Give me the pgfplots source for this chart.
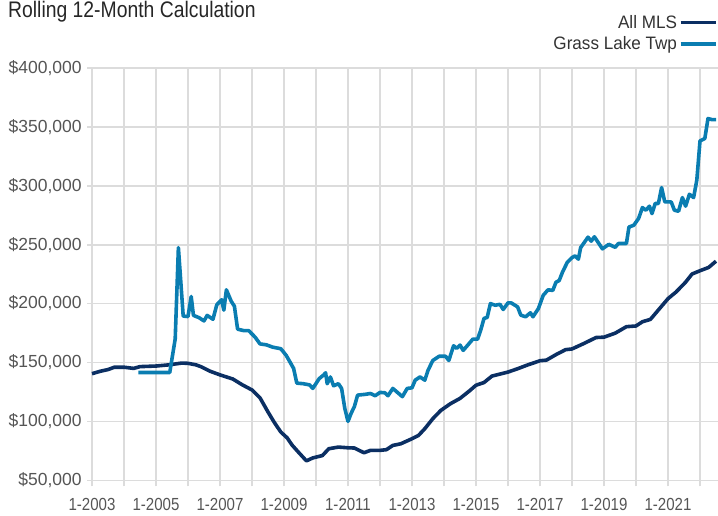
\documentclass[border=0pt]{standalone}
\usepackage{fontspec}
\setmainfont{Liberation Sans}[FakeStretch=0.86]
\newfontfamily\legfont{Liberation Sans}[FakeStretch=0.95]
\newfontfamily\yfont{Liberation Sans}
\usepackage{pgfplots}
\pgfplotsset{compat=1.18}
\definecolor{navy}{HTML}{0B2F63}
\definecolor{teal}{HTML}{0A7DB1}
\definecolor{gridgray}{HTML}{DCDCDC}
\definecolor{labgray}{HTML}{555555}
\begin{document}
\begin{tikzpicture}[x=1pt,y=1pt]
\useasboundingbox (0,0) rectangle (718,515);
\node[anchor=west, inner sep=0pt, font=\fontsize{22.5}{26}\selectfont, text=black!85] at (8,503) {Rolling 12-Month Calculation};
\begin{axis}[
  at={(87.2pt,34.7pt)}, anchor=south west,
  scale only axis, width=630.4pt, height=412.3pt,
  xmin=2002.85, xmax=2022.55, ymin=50, ymax=400,
  axis line style={draw=none},
  xtick={2003,2005,2007,2009,2011,2013,2015,2017,2019,2021},
  xticklabels={1-2003,1-2005,1-2007,1-2009,1-2011,1-2013,1-2015,1-2017,1-2019,1-2021},
  minor xtick={2004,2006,2008,2010,2012,2014,2016,2018,2020,2022},
  ytick={50,100,150,200,250,300,350,400},
  yticklabels={{\$50,000},{\$100,000},{\$150,000},{\$200,000},{\$250,000},{\$300,000},{\$350,000},{\$400,000}},
  xtick pos=bottom, ytick pos=left,
  tick align=outside, major tick length=6pt, minor tick length=6pt,
  xtick style={draw=gridgray, line width=1.6pt},
  minor x tick style={draw=gridgray, line width=1.6pt},
  ytick style={draw=none},
  grid=both,
  major grid style={draw=gridgray, line width=1.6pt},
  minor grid style={draw=gridgray, line width=1.6pt},
  /pgf/number format/assume math mode=true,
  yticklabel style={font=\yfont\fontsize{17.5}{20}\selectfont, text=labgray, xshift=4pt},
  xticklabel style={font=\fontsize{17.5}{20}\selectfont, text=labgray, yshift=-8pt},
  legend style={at={(1,1.035)}, anchor=south east, draw=none, fill=none,
    font=\legfont\fontsize{18}{21}\selectfont, text=black!80, inner sep=0pt,
    row sep=3pt, legend cell align=right},
  legend plot pos=right,
  legend image code/.code={\draw[#1, line width=3.4pt] (0pt,0pt) -- (35pt,0pt);},
  clip=false,
]
\addplot[navy, line width=3.6pt, line join=round] coordinates {
(2003.0,140.5)(2003.25,142.5)(2003.5,144)(2003.7,146)(2004.0,146)(2004.3,145)(2004.5,146.5)
(2005.0,147)(2005.4,148)(2005.8,149.5)(2006.0,149.3)(2006.25,148)(2006.4,146.5)(2006.7,142.5)
(2007.0,139.5)(2007.4,136)(2007.7,131)(2008.0,126.7)(2008.25,120)(2008.5,108)(2008.7,99)
(2008.9,91)(2009.1,86)(2009.25,80)(2009.4,75.4)(2009.7,66.5)(2009.9,69)(2010.2,71)
(2010.4,76.8)(2010.7,78.2)(2011.0,77.6)(2011.2,77.4)(2011.5,73.4)(2011.7,75.4)(2012.0,75.4)
(2012.2,76)(2012.4,79.6)(2012.65,81)(2013.0,85.3)(2013.2,88)(2013.4,93.8)(2013.65,102.3)
(2013.9,109.3)(2014.2,115)(2014.5,119.5)(2014.8,126)(2015.0,130.7)(2015.25,133)(2015.5,138.5)
(2016.0,141.9)(2016.3,144.7)(2016.6,147.8)(2017.0,151.5)(2017.2,152)(2017.5,156.7)(2017.8,160.9)
(2018.0,161.5)(2018.4,166.5)(2018.75,171.2)(2019.0,171.5)(2019.35,174.9)(2019.7,180.4)
(2020.0,181)(2020.2,184.6)(2020.45,186.6)(2020.65,193)(2021.0,204.2)(2021.25,209.8)
(2021.55,218.2)(2021.75,225.1)(2022.0,227.9)(2022.27,230.7)(2022.5,236)
};
\addlegendentry{All MLS}
\addplot[teal, line width=3.6pt, line join=round] coordinates {
(2004.45,141.5)(2005.43,141.5)(2005.6,170)(2005.7,247.5)(2005.85,189.4)(2006.0,189)(2006.1,206)
(2006.17,190)(2006.35,188)(2006.5,185.3)(2006.6,190)(2006.78,186.7)(2006.9,199)(2007.05,203.3)
(2007.12,194.4)(2007.2,211.7)(2007.35,202)(2007.45,197.8)(2007.55,178.3)(2007.75,177)(2007.9,177)
(2008.1,171.4)(2008.25,165.8)(2008.45,165)(2008.65,163)(2008.9,161.7)(2009.07,156)(2009.3,145)
(2009.4,132.5)(2009.6,132)(2009.8,131)(2009.9,128)(2010.1,136.3)(2010.25,139.7)(2010.3,141.3)
(2010.35,132)(2010.45,137.7)(2010.55,130.2)(2010.7,132)(2010.8,128)(2010.9,111)(2011.0,100)
(2011.1,107)(2011.2,112.6)(2011.3,122.3)(2011.55,123)(2011.7,123.7)(2011.85,121.8)(2012.0,124.6)
(2012.15,124.3)(2012.25,121.8)(2012.4,128)(2012.7,121)(2012.85,128)(2013.0,128.5)(2013.1,135)
(2013.25,137.7)(2013.4,135)(2013.5,143.3)(2013.65,151.7)(2013.85,155.3)(2014.05,155.3)
(2014.15,151.7)(2014.3,164.2)(2014.4,162)(2014.5,164.8)(2014.6,160.3)(2014.75,165)(2014.9,169.8)
(2015.05,169.8)(2015.15,177.7)(2015.25,187.4)(2015.35,188.3)(2015.45,200)(2015.6,198.6)
(2015.75,199.4)(2015.85,195)(2016.0,200.6)(2016.1,200.6)(2016.3,197.2)(2016.4,190.2)
(2016.55,188.8)(2016.7,192.2)(2016.78,188.8)(2016.95,195.8)(2017.1,207)(2017.25,211.7)
(2017.4,211.2)(2017.5,218.2)(2017.6,219.6)(2017.7,226.5)(2017.85,234.9)(2018.0,239.1)
(2018.1,240.5)(2018.2,237.7)(2018.27,247.5)(2018.5,256.4)(2018.6,253)(2018.7,256.7)
(2018.95,246.5)(2019.15,250.3)(2019.35,247.8)(2019.45,251)(2019.7,251)(2019.78,265)
(2019.93,266.5)(2020.08,272.2)(2020.2,281.5)(2020.31,279.3)(2020.42,282.7)(2020.5,276.4)
(2020.6,285)(2020.7,285)(2020.8,298.5)(2020.9,286.3)(2021.1,286.3)(2021.2,279.3)(2021.33,278.4)
(2021.45,290)(2021.55,282.7)(2021.67,292.8)(2021.8,290)(2021.9,304.7)(2022.0,338.1)
(2022.15,340.1)(2022.25,357.1)(2022.37,356.2)(2022.5,356.2)
};
\addlegendentry{Grass Lake Twp}
\end{axis}
\end{tikzpicture}
\end{document}
